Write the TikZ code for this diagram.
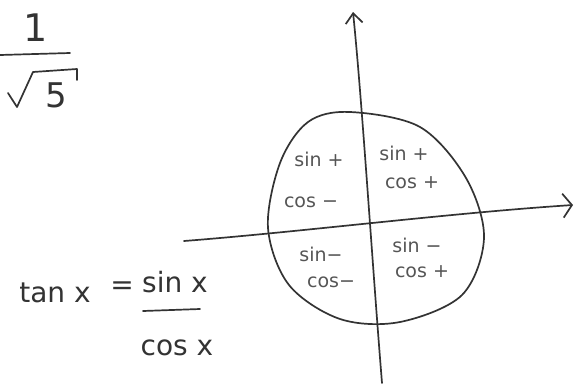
\documentclass[tikz,border=0pt]{standalone}
\usepackage{fontspec}
\setmainfont{DejaVu Sans}
\usetikzlibrary{arrows.meta}
\definecolor{ink}{HTML}{333333}
\definecolor{pencil}{HTML}{555555}
\tikzset{
  stroke/.style={draw=ink, line width=1.7pt, line cap=round, line join=round},
  quad/.style={text=pencil, font=\fontsize{19}{19}\selectfont, inner sep=0pt},
  big/.style={text=ink, font=\fontsize{28}{28}\selectfont, inner sep=0pt},
  barb/.style={-{Straight Barb[length=10pt,width=17pt,line width=1.7pt]}}
}
\begin{document}
\begin{tikzpicture}[x=1pt,y=-1pt]
\useasboundingbox (0,0) rectangle (578,383);
% 1/sqrt5
\node[big, font=\fontsize{38}{38}\selectfont] (one) at (36,28) {1};
\coordinate (fracL) at (0,55);
\coordinate (fracR) at (70,53);
\draw[stroke] (fracL) -- (fracR);
\coordinate (r1) at (8,93);
\coordinate (r2) at (17,107);
\coordinate (r3) at (33,72);
\coordinate (r4) at (77,69);
\coordinate (r5) at (77,80);
\draw[stroke] (r1) -- (r2) -- (r3) -- (r4) -- (r5);
\node[big, font=\fontsize{34}{34}\selectfont] (five) at (56,95) {5};
% circle (hand-drawn)
\draw[stroke] plot[smooth cycle, tension=0.55] coordinates {
  (350,112) (420,127) (466,178) (484,238) (462,295) (400,322)
  (340,319) (289,285) (268,228) (280,163) (308,122)};
% axes
\coordinate (vbot) at (382,383);
\coordinate (vtop) at (353,12);
\draw[stroke, barb] (vbot) .. controls (372,260) and (362,100) .. (vtop);
\coordinate (hleft) at (184,241);
\coordinate (hright) at (573,205);
\draw[stroke, -{Straight Barb[length=9pt,width=24pt,line width=1.7pt]}] (hleft) .. controls (300,232) and (450,213) .. (hright);
% quadrant labels
\node[quad] (q2s) at (319,159) {sin +};
\node[quad] (q2c) at (311,202) {cos −};
\node[quad] (q1s) at (404,153) {sin +};
\node[quad] (q1c) at (412,183) {cos +};
\node[quad] (q3s) at (321,254) {sin−};
\node[quad] (q3c) at (331,282) {cos−};
\node[quad] (q4s) at (417,245) {sin −};
\node[quad] (q4c) at (422,272) {cos +};
% tan x = sin x / cos x
\node[big] (tan) at (55,293) {tan x};
\node[big] (eq) at (122,288) {=};
\node[big] (sinx) at (175,282) {sin x};
\coordinate (barL) at (143,311);
\coordinate (barR) at (200,309);
\draw[stroke] (barL) -- (barR);
\node[big] (cosx) at (177,348) {cos x};
\end{tikzpicture}
\end{document}
